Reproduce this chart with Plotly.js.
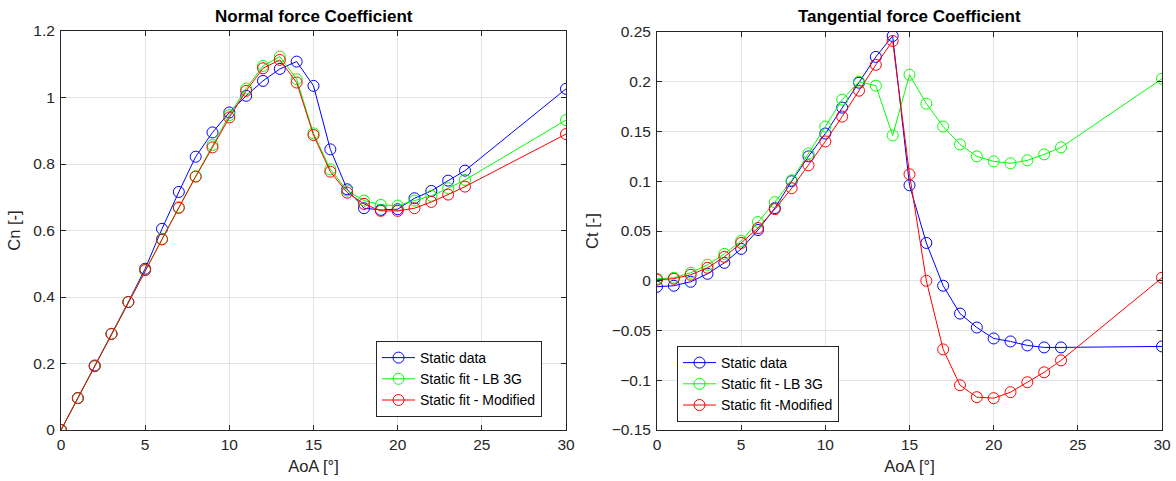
<!DOCTYPE html>
<html>
<head>
<meta charset="utf-8">
<script src="https://cdn.plot.ly/plotly-3.0.1.min.js"></script>
<style>
  html, body { margin: 0; padding: 0; background: #ffffff; }
  #chart { width: 1176px; height: 481px; }
</style>
</head>
<body>
<div id="chart"></div>
<script>
// Angle of attack [deg]
const aoa = [0, 1, 2, 3, 4, 5, 6, 7, 8, 9, 10, 11, 12, 13, 14, 15, 16, 17, 18, 19, 20, 21, 22, 23, 24, 30];

// Normal force coefficient Cn
const cnStatic = [0, 0.096, 0.194, 0.289, 0.385, 0.485, 0.605, 0.716, 0.822, 0.895, 0.955, 1.005, 1.05, 1.086, 1.108, 1.035, 0.844, 0.724, 0.667, 0.662, 0.664, 0.697, 0.719, 0.75, 0.78, 1.026];
const cnLB3G   = [0, 0.096, 0.192, 0.289, 0.385, 0.481, 0.575, 0.67, 0.763, 0.857, 0.947, 1.027, 1.095, 1.123, 1.055, 0.892, 0.784, 0.72, 0.69, 0.677, 0.675, 0.69, 0.704, 0.727, 0.752, 0.932];
const cnMod    = [0, 0.096, 0.192, 0.289, 0.385, 0.481, 0.573, 0.668, 0.762, 0.85, 0.94, 1.02, 1.088, 1.113, 1.045, 0.887, 0.777, 0.714, 0.68, 0.659, 0.659, 0.667, 0.686, 0.708, 0.732, 0.89];

// Tangential force coefficient Ct
const ctStatic = [-0.006, -0.005, -0.001, 0.007, 0.018, 0.032, 0.051, 0.073, 0.1, 0.125, 0.148, 0.174, 0.199, 0.225, 0.246, 0.096, 0.038, -0.005, -0.033, -0.047, -0.058, -0.061, -0.065, -0.067, -0.067, -0.066];
const ctLB3G   = [0.002, 0.003, 0.008, 0.016, 0.027, 0.04, 0.059, 0.079, 0.101, 0.128, 0.155, 0.182, 0.2, 0.196, 0.146, 0.207, 0.178, 0.155, 0.137, 0.125, 0.12, 0.118, 0.121, 0.127, 0.134, 0.203];
const ctMod    = [0.001, 0.002, 0.006, 0.013, 0.024, 0.038, 0.053, 0.072, 0.093, 0.116, 0.14, 0.165, 0.191, 0.217, 0.241, 0.107, 0.0, -0.069, -0.105, -0.117, -0.118, -0.112, -0.102, -0.092, -0.08, 0.003];

const namesLeft  = ['Static data', 'Static fit - LB 3G', 'Static fit - Modified'];
const namesRight = ['Static data', 'Static fit - LB 3G', 'Static fit -Modified'];
const colors = ['#0000ff', '#00ff00', '#ff0000'];

const W = 1176, H = 481;
const FONT = 'Liberation Sans, Arial, Helvetica, sans-serif';
const AXIS_COLOR = '#262626';
const GRID_COLOR = '#e3e3e3';

function series(x, y, name, color, xa, ya, legend) {
  return {
    x: x, y: y, name: name, type: 'scatter', mode: 'lines+markers',
    xaxis: xa, yaxis: ya, legend: legend,
    line: { color: color, width: 1 },
    marker: { symbol: 'circle-open', size: 11, color: color, line: { color: color, width: 1 } }
  };
}

const traces = [
  series(aoa, cnStatic, namesLeft[0], colors[0], 'x', 'y', 'legend'),
  series(aoa, cnLB3G,   namesLeft[1], colors[1], 'x', 'y', 'legend'),
  series(aoa, cnMod,    namesLeft[2], colors[2], 'x', 'y', 'legend'),
  series(aoa, ctStatic, namesRight[0], colors[0], 'x2', 'y2', 'legend2'),
  series(aoa, ctLB3G,   namesRight[1], colors[1], 'x2', 'y2', 'legend2'),
  series(aoa, ctMod,    namesRight[2], colors[2], 'x2', 'y2', 'legend2')
];

const TICK_FONT = { family: FONT, size: 15.5, color: AXIS_COLOR };
const LABEL_FONT = { family: FONT, size: 16.5, color: AXIS_COLOR };

function xAxis(domain, anchor) {
  return {
    domain: domain, anchor: anchor, range: [0, 30], dtick: 5,
    showline: true, linecolor: AXIS_COLOR, linewidth: 1, mirror: 'ticks',
    ticks: 'inside', ticklen: 5, tickcolor: AXIS_COLOR,
    showgrid: true, gridcolor: GRID_COLOR, zeroline: false,
    tickfont: TICK_FONT,
    title: { text: 'AoA [°]', font: LABEL_FONT, standoff: 8 }
  };
}
function yAxis(domain, anchor, range, dtick, label) {
  return {
    domain: domain, anchor: anchor, range: range, dtick: dtick,
    showline: true, linecolor: AXIS_COLOR, linewidth: 1, mirror: 'ticks',
    ticks: 'inside', ticklen: 5, tickcolor: AXIS_COLOR,
    showgrid: true, gridcolor: GRID_COLOR, zeroline: false,
    tickfont: TICK_FONT, ticklabelstandoff: 2,
    title: { text: label, font: LABEL_FONT, standoff: 8 }
  };
}

const legendStyle = {
  bgcolor: '#ffffff', bordercolor: AXIS_COLOR, borderwidth: 1,
  font: { family: FONT, size: 14, color: '#000000' },
  xanchor: 'left', yanchor: 'top', itemwidth: 33, tracegroupgap: 0
};

const layout = {
  width: W, height: H,
  margin: { l: 0, r: 0, t: 0, b: 0 },
  paper_bgcolor: '#ffffff', plot_bgcolor: '#ffffff',
  showlegend: true,
  xaxis:  xAxis([61 / W, 566 / W], 'y'),
  yaxis:  yAxis([1 - 430 / H, 1 - 31 / H], 'x', [0, 1.2], 0.2, 'Cn [-]'),
  xaxis2: xAxis([657 / W, 1162 / W], 'y2'),
  yaxis2: yAxis([1 - 430 / H, 1 - 32 / H], 'x2', [-0.15, 0.25], 0.05, 'Ct [-]'),
  legend:  Object.assign({ x: 376 / W, y: 1 - 341 / H }, legendStyle),
  legend2: Object.assign({ x: 677 / W, y: 1 - 346 / H }, legendStyle),
  annotations: [
    { text: '<b>Normal force Coefficient</b>', xref: 'paper', yref: 'paper',
      x: 313.5 / W, y: 1 - 17 / H, xanchor: 'center', yanchor: 'middle', showarrow: false,
      font: { family: FONT, size: 17, color: '#000000' } },
    { text: '<b>Tangential force Coefficient</b>', xref: 'paper', yref: 'paper',
      x: 909.5 / W, y: 1 - 17 / H, xanchor: 'center', yanchor: 'middle', showarrow: false,
      font: { family: FONT, size: 17, color: '#000000' } }
  ]
};

Plotly.newPlot('chart', traces, layout, { displayModeBar: false, staticPlot: true });
</script>
</body>
</html>
